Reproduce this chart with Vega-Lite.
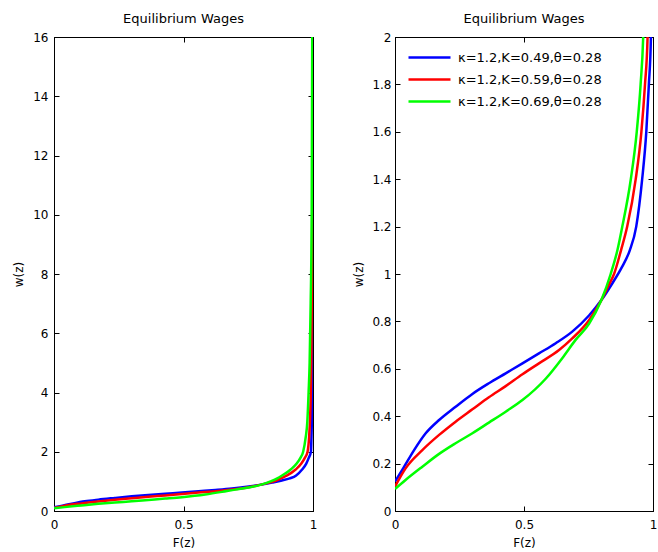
{
  "$schema": "https://vega.github.io/schema/vega-lite/v6.json",
  "background": "white",
  "padding": {"left": 12, "top": 12, "right": 2, "bottom": 2},
  "spacing": 82,
  "bounds": "flush",
  "config": {
    "view": {"stroke": "black", "strokeWidth": 1},
    "font": "DejaVu Sans",
    "axis": {
      "grid": false,
      "domainColor": "black",
      "tickColor": "black",
      "labelColor": "black",
      "titleColor": "black",
      "labelFont": "DejaVu Sans",
      "titleFont": "DejaVu Sans",
      "labelFontSize": 12,
      "titleFontSize": 12,
      "titleFontWeight": "normal",
      "tickSize": -5,
      "labelFlush": false,
      "labelOverlap": false
    },
    "axisX": {"labelPadding": 13},
    "axisY": {"labelPadding": 11},
    "title": {"font": "DejaVu Sans", "fontSize": 13, "fontWeight": "normal", "color": "black", "offset": 5},
    "legend": {"labelFont": "DejaVu Sans", "labelFontSize": 13, "labelColor": "black"}
  },
  "data": {"values": [
    {"s": "κ=1.2,K=0.49,θ=0.28", "F": 0, "w": 0.124},
    {"s": "κ=1.2,K=0.49,θ=0.28", "F": 0.028, "w": 0.173},
    {"s": "κ=1.2,K=0.49,θ=0.28", "F": 0.074, "w": 0.257},
    {"s": "κ=1.2,K=0.49,θ=0.28", "F": 0.119, "w": 0.328},
    {"s": "κ=1.2,K=0.49,θ=0.28", "F": 0.171, "w": 0.384},
    {"s": "κ=1.2,K=0.49,θ=0.28", "F": 0.235, "w": 0.44},
    {"s": "κ=1.2,K=0.49,θ=0.28", "F": 0.3, "w": 0.494},
    {"s": "κ=1.2,K=0.49,θ=0.28", "F": 0.364, "w": 0.539},
    {"s": "κ=1.2,K=0.49,θ=0.28", "F": 0.429, "w": 0.581},
    {"s": "κ=1.2,K=0.49,θ=0.28", "F": 0.494, "w": 0.623},
    {"s": "κ=1.2,K=0.49,θ=0.28", "F": 0.558, "w": 0.665},
    {"s": "κ=1.2,K=0.49,θ=0.28", "F": 0.623, "w": 0.708},
    {"s": "κ=1.2,K=0.49,θ=0.28", "F": 0.687, "w": 0.757},
    {"s": "κ=1.2,K=0.49,θ=0.28", "F": 0.752, "w": 0.825},
    {"s": "κ=1.2,K=0.49,θ=0.28", "F": 0.8, "w": 0.89},
    {"s": "κ=1.2,K=0.49,θ=0.28", "F": 0.842, "w": 0.96},
    {"s": "κ=1.2,K=0.49,θ=0.28", "F": 0.88, "w": 1.03},
    {"s": "κ=1.2,K=0.49,θ=0.28", "F": 0.91, "w": 1.1},
    {"s": "κ=1.2,K=0.49,θ=0.28", "F": 0.935, "w": 1.2},
    {"s": "κ=1.2,K=0.49,θ=0.28", "F": 0.958, "w": 1.4},
    {"s": "κ=1.2,K=0.49,θ=0.28", "F": 0.974, "w": 1.6},
    {"s": "κ=1.2,K=0.49,θ=0.28", "F": 0.984, "w": 1.8},
    {"s": "κ=1.2,K=0.49,θ=0.28", "F": 0.992, "w": 2.0},
    {"s": "κ=1.2,K=0.49,θ=0.28", "F": 0.994, "w": 2.5},
    {"s": "κ=1.2,K=0.49,θ=0.28", "F": 0.996, "w": 3.3},
    {"s": "κ=1.2,K=0.49,θ=0.28", "F": 0.997, "w": 4.2},
    {"s": "κ=1.2,K=0.49,θ=0.28", "F": 0.998, "w": 6},
    {"s": "κ=1.2,K=0.49,θ=0.28", "F": 0.999, "w": 9},
    {"s": "κ=1.2,K=0.49,θ=0.28", "F": 0.9995, "w": 13},
    {"s": "κ=1.2,K=0.49,θ=0.28", "F": 1.0, "w": 16},
    {"s": "κ=1.2,K=0.59,θ=0.28", "F": 0, "w": 0.103},
    {"s": "κ=1.2,K=0.59,θ=0.28", "F": 0.041, "w": 0.18},
    {"s": "κ=1.2,K=0.59,θ=0.28", "F": 0.106, "w": 0.257},
    {"s": "κ=1.2,K=0.59,θ=0.28", "F": 0.171, "w": 0.321},
    {"s": "κ=1.2,K=0.59,θ=0.28", "F": 0.235, "w": 0.377},
    {"s": "κ=1.2,K=0.59,θ=0.28", "F": 0.3, "w": 0.429},
    {"s": "κ=1.2,K=0.59,θ=0.28", "F": 0.364, "w": 0.48},
    {"s": "κ=1.2,K=0.59,θ=0.28", "F": 0.429, "w": 0.527},
    {"s": "κ=1.2,K=0.59,θ=0.28", "F": 0.494, "w": 0.577},
    {"s": "κ=1.2,K=0.59,θ=0.28", "F": 0.558, "w": 0.623},
    {"s": "κ=1.2,K=0.59,θ=0.28", "F": 0.636, "w": 0.679},
    {"s": "κ=1.2,K=0.59,θ=0.28", "F": 0.687, "w": 0.728},
    {"s": "κ=1.2,K=0.59,θ=0.28", "F": 0.752, "w": 0.805},
    {"s": "κ=1.2,K=0.59,θ=0.28", "F": 0.8, "w": 0.89},
    {"s": "κ=1.2,K=0.59,θ=0.28", "F": 0.829, "w": 0.955},
    {"s": "κ=1.2,K=0.59,θ=0.28", "F": 0.849, "w": 1.0},
    {"s": "κ=1.2,K=0.59,θ=0.28", "F": 0.876, "w": 1.1},
    {"s": "κ=1.2,K=0.59,θ=0.28", "F": 0.9, "w": 1.2},
    {"s": "κ=1.2,K=0.59,θ=0.28", "F": 0.933, "w": 1.4},
    {"s": "κ=1.2,K=0.59,θ=0.28", "F": 0.955, "w": 1.6},
    {"s": "κ=1.2,K=0.59,θ=0.28", "F": 0.969, "w": 1.8},
    {"s": "κ=1.2,K=0.59,θ=0.28", "F": 0.979, "w": 2.0},
    {"s": "κ=1.2,K=0.59,θ=0.28", "F": 0.985, "w": 2.5},
    {"s": "κ=1.2,K=0.59,θ=0.28", "F": 0.989, "w": 3.2},
    {"s": "κ=1.2,K=0.59,θ=0.28", "F": 0.992, "w": 4.2},
    {"s": "κ=1.2,K=0.59,θ=0.28", "F": 0.994, "w": 5.5},
    {"s": "κ=1.2,K=0.59,θ=0.28", "F": 0.996, "w": 8},
    {"s": "κ=1.2,K=0.59,θ=0.28", "F": 0.998, "w": 12},
    {"s": "κ=1.2,K=0.59,θ=0.28", "F": 0.999, "w": 16},
    {"s": "κ=1.2,K=0.69,θ=0.28", "F": 0, "w": 0.093},
    {"s": "κ=1.2,K=0.69,θ=0.28", "F": 0.041, "w": 0.131},
    {"s": "κ=1.2,K=0.69,θ=0.28", "F": 0.106, "w": 0.187},
    {"s": "κ=1.2,K=0.69,θ=0.28", "F": 0.171, "w": 0.241},
    {"s": "κ=1.2,K=0.69,θ=0.28", "F": 0.235, "w": 0.286},
    {"s": "κ=1.2,K=0.69,θ=0.28", "F": 0.3, "w": 0.328},
    {"s": "κ=1.2,K=0.69,θ=0.28", "F": 0.364, "w": 0.373},
    {"s": "κ=1.2,K=0.69,θ=0.28", "F": 0.429, "w": 0.419},
    {"s": "κ=1.2,K=0.69,θ=0.28", "F": 0.494, "w": 0.468},
    {"s": "κ=1.2,K=0.69,θ=0.28", "F": 0.584, "w": 0.558},
    {"s": "κ=1.2,K=0.69,θ=0.28", "F": 0.649, "w": 0.646},
    {"s": "κ=1.2,K=0.69,θ=0.28", "F": 0.7, "w": 0.722},
    {"s": "κ=1.2,K=0.69,θ=0.28", "F": 0.752, "w": 0.79},
    {"s": "κ=1.2,K=0.69,θ=0.28", "F": 0.8, "w": 0.89},
    {"s": "κ=1.2,K=0.69,θ=0.28", "F": 0.836, "w": 1.0},
    {"s": "κ=1.2,K=0.69,θ=0.28", "F": 0.862, "w": 1.1},
    {"s": "κ=1.2,K=0.69,θ=0.28", "F": 0.881, "w": 1.2},
    {"s": "κ=1.2,K=0.69,θ=0.28", "F": 0.914, "w": 1.4},
    {"s": "κ=1.2,K=0.69,θ=0.28", "F": 0.937, "w": 1.6},
    {"s": "κ=1.2,K=0.69,θ=0.28", "F": 0.952, "w": 1.8},
    {"s": "κ=1.2,K=0.69,θ=0.28", "F": 0.962, "w": 2.0},
    {"s": "κ=1.2,K=0.69,θ=0.28", "F": 0.972, "w": 2.5},
    {"s": "κ=1.2,K=0.69,θ=0.28", "F": 0.978, "w": 3.0},
    {"s": "κ=1.2,K=0.69,θ=0.28", "F": 0.983, "w": 4.0},
    {"s": "κ=1.2,K=0.69,θ=0.28", "F": 0.987, "w": 5.0},
    {"s": "κ=1.2,K=0.69,θ=0.28", "F": 0.991, "w": 7.0},
    {"s": "κ=1.2,K=0.69,θ=0.28", "F": 0.995, "w": 10.0},
    {"s": "κ=1.2,K=0.69,θ=0.28", "F": 0.997, "w": 16.0}
  ]},
  "resolve": {"scale": {"color": "independent", "y": "independent"}},
  "hconcat": [
    {
      "width": 259,
      "height": 474,
      "title": "Equilibrium Wages",
      "resolve": {"axis": {"x": "independent", "y": "independent"}},
      "layer": [
        {
          "mark": {"type": "line", "strokeWidth": 2.5, "clip": true, "interpolate": "monotone"},
          "encoding": {
            "x": {"field": "F", "type": "quantitative", "scale": {"domain": [0, 1], "nice": false}, "axis": {"orient": "bottom", "values": [0, 0.5, 1], "format": "~g", "title": "F(z)", "titlePadding": 7}},
            "y": {"field": "w", "type": "quantitative", "scale": {"domain": [0, 16], "nice": false}, "axis": {"orient": "left", "values": [0, 2, 4, 6, 8, 10, 12, 14, 16], "format": "~g", "title": "w(z)", "titlePadding": 7}},
            "color": {"field": "s", "type": "nominal", "scale": {"domain": ["κ=1.2,K=0.49,θ=0.28", "κ=1.2,K=0.59,θ=0.28", "κ=1.2,K=0.69,θ=0.28"], "range": ["#0000ff", "#ff0000", "#00ff00"]}, "legend": null},
            "order": {"field": "F", "type": "quantitative"}
          }
        },
        {
          "mark": {"type": "line", "opacity": 0, "clip": true},
          "encoding": {
            "x": {"field": "F", "type": "quantitative", "axis": {"orient": "top", "values": [0, 0.5, 1], "labels": false, "title": null}},
            "y": {"field": "w", "type": "quantitative", "axis": {"orient": "right", "values": [0, 2, 4, 6, 8, 10, 12, 14, 16], "labels": false, "title": null}},
            "detail": {"field": "s"}
          }
        }
      ]
    },
    {
      "width": 258,
      "height": 474,
      "title": "Equilibrium Wages",
      "resolve": {"axis": {"x": "independent", "y": "independent"}},
      "layer": [
        {
          "mark": {"type": "line", "strokeWidth": 2.5, "clip": true, "interpolate": "monotone"},
          "encoding": {
            "x": {"field": "F", "type": "quantitative", "scale": {"domain": [0, 1], "nice": false}, "axis": {"orient": "bottom", "values": [0, 0.5, 1], "format": "~g", "title": "F(z)", "titlePadding": 7}},
            "y": {"field": "w", "type": "quantitative", "scale": {"domain": [0, 2], "nice": false}, "axis": {"orient": "left", "values": [0, 0.2, 0.4, 0.6, 0.8, 1, 1.2, 1.4, 1.6, 1.8, 2], "format": "~g", "title": "w(z)", "titlePadding": 6, "labelPadding": 9}},
            "color": {"field": "s", "type": "nominal", "scale": {"domain": ["κ=1.2,K=0.49,θ=0.28", "κ=1.2,K=0.59,θ=0.28", "κ=1.2,K=0.69,θ=0.28"], "range": ["#0000ff", "#ff0000", "#00ff00"]}, "legend": {"title": null, "orient": "top-left", "offset": 12, "symbolType": "M-1,0H5", "symbolSize": 196, "symbolStrokeWidth": 2.5, "symbolFillColor": "transparent", "rowPadding": 6, "labelOffset": 34}},
            "order": {"field": "F", "type": "quantitative"}
          }
        },
        {
          "mark": {"type": "line", "opacity": 0, "clip": true},
          "encoding": {
            "x": {"field": "F", "type": "quantitative", "axis": {"orient": "top", "values": [0, 0.5, 1], "labels": false, "title": null}},
            "y": {"field": "w", "type": "quantitative", "axis": {"orient": "right", "values": [0, 0.2, 0.4, 0.6, 0.8, 1, 1.2, 1.4, 1.6, 1.8, 2], "labels": false, "title": null}},
            "detail": {"field": "s"}
          }
        }
      ]
    }
  ]
}
